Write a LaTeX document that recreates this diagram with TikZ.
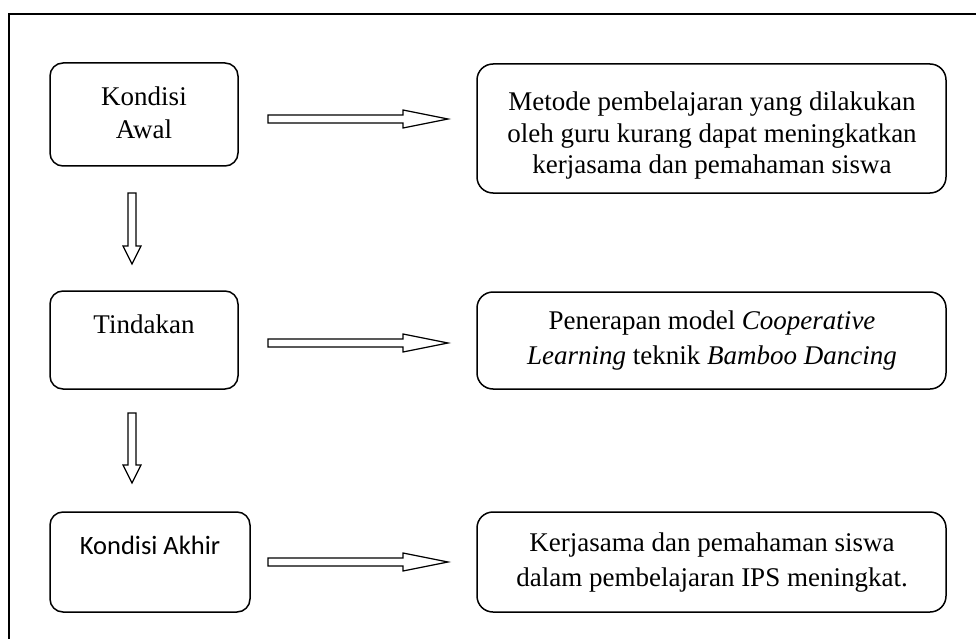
\documentclass[tikz,border=0pt]{standalone}
\usepackage{fontspec}
\setmainfont{Liberation Serif}
\newfontfamily\calibrifont{Carlito}
\usetikzlibrary{calc}
\tikzset{
  box/.style={draw=black, line width=1.5pt, rounded corners=13pt, inner sep=0pt, align=center,
    font=\fontsize{27}{33}\selectfont},
  rbox/.style={box, rounded corners=16pt},
  txt/.style={inner sep=0pt, align=center, font=\fontsize{27}{33}\selectfont},
  blockarrow/.style={draw=black, line width=1.2pt, fill=white, line join=miter},
  frame/.style={draw=black, line width=2pt}
}
\newcommand{\harrow}[2]{%
  \path[blockarrow] ($(#1)+(0,-4)$) -- ($(#2)+(-45,-4)$) -- ($(#2)+(-45,-9)$) -- (#2)
    -- ($(#2)+(-45,9)$) -- ($(#2)+(-45,4)$) -- ($(#1)+(0,4)$) -- cycle;}
\newcommand{\varrow}[2]{%
  \path[blockarrow] ($(#1)+(-4,0)$) -- ($(#2)+(-4,-18)$) -- ($(#2)+(-9,-18)$) -- (#2)
    -- ($(#2)+(9,-18)$) -- ($(#2)+(4,-18)$) -- ($(#1)+(4,0)$) -- cycle;}
\begin{document}
\begin{tikzpicture}[x=1pt,y=-1pt]
\useasboundingbox (0,0) rectangle (976,639);
% frame (only top and left edges visible)
\coordinate (ftr) at (980,14);
\coordinate (ftl) at (9,14);
\coordinate (fbl) at (9,645);
\draw[frame] (ftr) -- (ftl) -- (fbl);

% left boxes
\node[box, minimum width=188pt, minimum height=103pt] (l1) at (144,114.5) {};
\node[txt] (l1t) at (144,113) {Kondisi\\Awal};
\node[box, minimum width=188pt, minimum height=98pt] (l2) at (144,340) {};
\node[txt] (l2t) at (144,324) {Tindakan};
\node[box, minimum width=200pt, minimum height=100pt] (l3) at (150,562) {};
\node[txt, font=\calibrifont\fontsize{26.5}{32}\selectfont] (l3t) at (150,545) {Kondisi Akhir};

% right boxes
\node[rbox, minimum width=469pt, minimum height=129pt] (r1) at (711.5,128.5) {};
\node[txt, font=\fontsize{27}{31.5}\selectfont] (r1t) at (712,136)
  {Metode pembelajaran yang dilakukan\\oleh guru kurang dapat meningkatkan\\kerjasama dan pemahaman siswa};
\node[rbox, minimum width=469pt, minimum height=97pt] (r2) at (711.5,340.5) {};
\node[txt, font=\fontsize{27}{35}\selectfont] (r2t) at (712,341)
  {Penerapan model \textit{Cooperative}\\\textit{Learning} teknik \textit{Bamboo Dancing}};
\node[rbox, minimum width=469pt, minimum height=100pt] (r3) at (711.5,562) {};
\node[txt, font=\fontsize{27}{35}\selectfont] (r3t) at (712,563)
  {Kerjasama dan pemahaman siswa\\dalam pembelajaran IPS meningkat.};

% arrow anchor coordinates
\coordinate (h1s) at (268,119);  \coordinate (h1e) at (448,119);
\coordinate (h2s) at (268,343);  \coordinate (h2e) at (448,343);
\coordinate (h3s) at (268,562);  \coordinate (h3e) at (448,562);
\coordinate (v1s) at (132,193);  \coordinate (v1e) at (132,264);
\coordinate (v2s) at (132,413);  \coordinate (v2e) at (132,483);

\harrow{h1s}{h1e}
\harrow{h2s}{h2e}
\harrow{h3s}{h3e}
\varrow{v1s}{v1e}
\varrow{v2s}{v2e}
\end{tikzpicture}
\end{document}
